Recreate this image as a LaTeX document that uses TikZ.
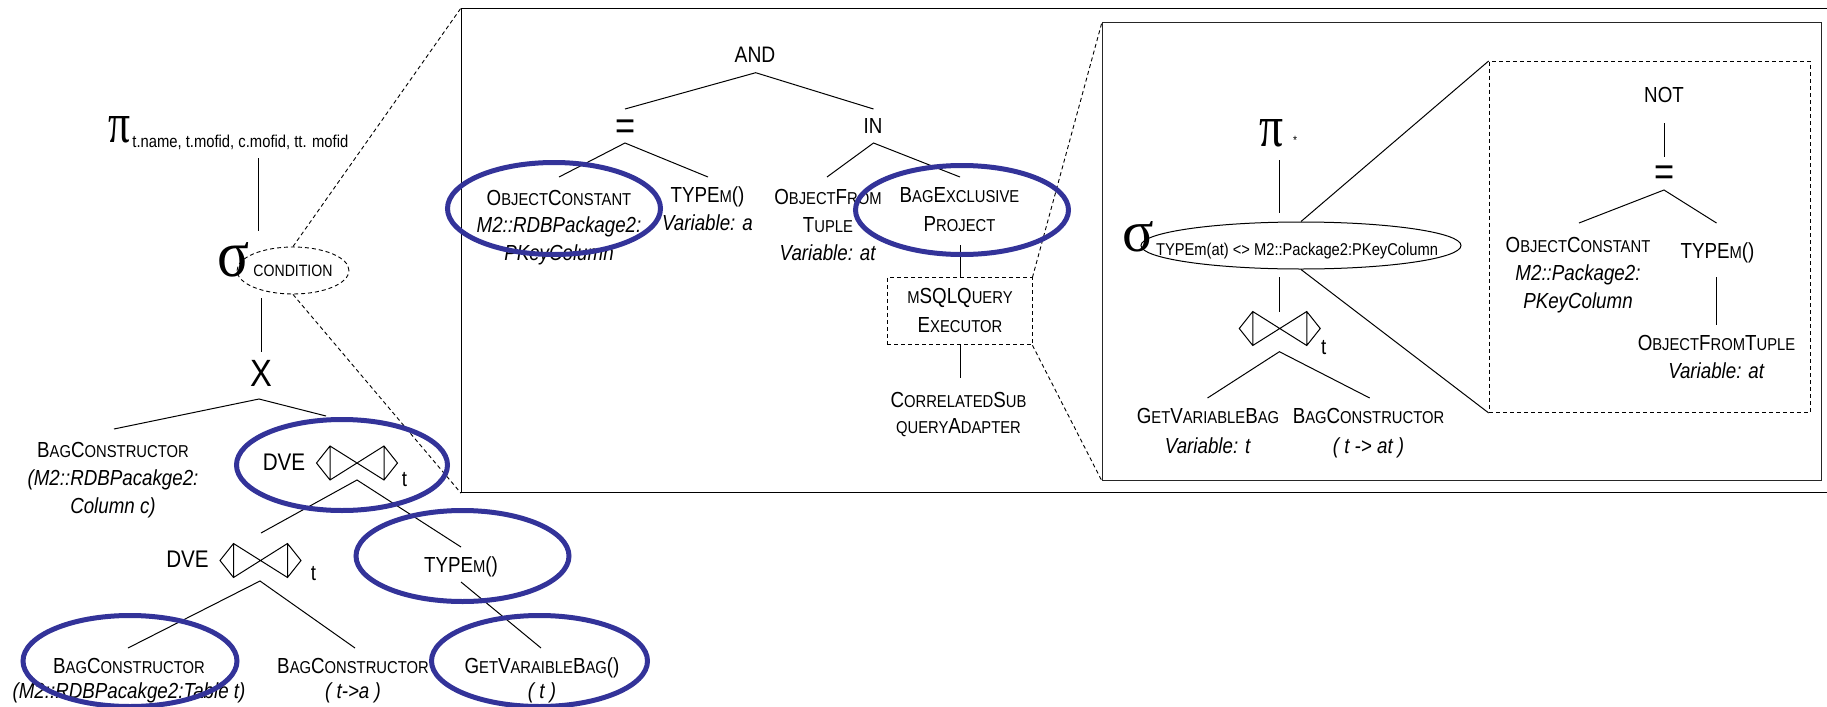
\documentclass[tikz,border=0pt]{standalone}
\usepackage{graphicx}
\usepackage{fontspec}
\setmainfont[FakeStretch=0.86]{Liberation Sans}
\newfontfamily\grk{Liberation Serif}
\usetikzlibrary{shapes.geometric}
\definecolor{ovalblue}{RGB}{51,51,153}
\newcommand\sm[1]{{\fontsize{8.6pt}{10pt}\selectfont #1}}
\newcommand\ls[1]{\fontsize{10.9pt}{#1pt}\selectfont}
\tikzset{
  lbl/.style={anchor=base, inner sep=0pt, align=center, font=\ls{14}},
  oval/.style={draw=ovalblue, line width=2.5pt, ellipse, inner sep=0pt},
  edge/.style={line width=0.5pt},
  dashline/.style={dash pattern=on 2pt off 1.5pt, line width=0.45pt},
  frame/.style={draw, line width=0.6pt, inner sep=0pt, anchor=north west},
  glyph/.style={inner sep=0pt},
  bowtie/.pic={
    \draw[edge, line join=miter] (-40.5,0) -- (-27,-17) -- (27,17) -- (40.5,0) -- (27,-17) -- (-27,17) -- cycle
      (-27,-17) -- (-27,17) (27,-17) -- (27,17);
    \coordinate (-b) at (0,17);
  }
}
\begin{document}
\begin{tikzpicture}[x=0.5pt, y=-0.5pt]
\useasboundingbox (0,0) rectangle (1827,707);

% ---------- frames ----------
\node[frame, minimum width=689.5pt, minimum height=242pt] (box1) at (461,8) {};
\node[frame, draw=black!85, minimum width=359.5pt, minimum height=229pt] (box2) at (1102,22) {};
\node[frame, dashline, minimum width=160.7pt, minimum height=175.5pt] (notbox) at (1488.6,61) {};

% ---------- left tree ----------
\node[glyph] (pi1) at (119,130) {\resizebox{11pt}{13pt}{\grk π}};
\node[anchor=base west, inner sep=0pt, font=\fontsize{8.6pt}{10pt}\selectfont] (pi1sub) at (132,147) {t.name, t.mofid, c.mofid, tt. mofid};
\node[glyph] (sig1) at (233,260) {\resizebox{16pt}{17pt}{\grk σ}};
\node[ellipse, draw, dashline, minimum width=50pt, minimum height=23.5pt, inner sep=0pt, font=\fontsize{8.2pt}{9pt}\selectfont] (cond) at (293,270.5) {CONDITION};
\node[glyph, font=\fontsize{19pt}{19pt}\selectfont] (cross) at (261,373.5) {X};

\coordinate (pi1b) at (258,158);
\coordinate (sig1t) at (258,231);
\coordinate (sig1b) at (261,298);
\coordinate (crosst) at (261,352);
\coordinate (crossb) at (259,399);
\coordinate (bc1t) at (114,429);
\coordinate (dve1t) at (326,416);
\draw[edge] (pi1b) -- (sig1t);
\draw[edge] (sig1b) -- (crosst);
\draw[edge] (bc1t) -- (crossb) -- (dve1t);

\node[lbl] (bc1) at (113,513) {B\sm{AG}C\sm{ONSTRUCTOR}\\\textit{(M2::RDBPacakge2:}\\\textit{Column c)}};
\node[lbl, font=\fontsize{12pt}{14pt}\selectfont] (dve1) at (284,470) {DVE};
\pic (bt1) at (357,463) {bowtie};
\node[lbl] (t1) at (404.5,486) {t};

\coordinate (dve2t) at (261,533);
\coordinate (ty1t) at (461,547);
\draw[edge] (dve2t) -- (bt1-b) -- (ty1t);

\node[lbl, font=\fontsize{12pt}{14pt}\selectfont] (dve2) at (187.5,567) {DVE};
\pic (bt2) at (260.5,560.5) {bowtie};
\node[lbl] (t2) at (313.5,580) {t};
\node[lbl] (ty1) at (461,572) {TYPE\sm{M}()};

\coordinate (bt2a) at (260,581);
\coordinate (bc2t) at (128,648);
\coordinate (bc3t) at (355,648);
\coordinate (ty1b) at (461,582);
\coordinate (gvb1t) at (541,648);
\draw[edge] (bc2t) -- (bt2a) -- (bc3t);
\draw[edge] (ty1b) -- (gvb1t);

\node[lbl, font=\ls{12.5}] (bc2) at (129,698) {B\sm{AG}C\sm{ONSTRUCTOR}\\\textit{(M2::RDBPacakge2:Table t)}};
\node[lbl, font=\ls{12.5}] (bc3) at (353,698) {B\sm{AG}C\sm{ONSTRUCTOR}\\\textit{( t->a )}};
\node[lbl, font=\ls{12.5}] (gvb1) at (542,698) {G\sm{ET}V\sm{ARAIBLE}B\sm{AG}()\\\textit{( t )}};

% zoom lines from condition
\draw[dashline] (cond.north) -- (box1.north west);
\draw[dashline] (cond.south) -- (box1.south west);

% ---------- middle tree ----------
\node[lbl, font=\fontsize{11.2pt}{14pt}\selectfont] (and) at (755,62) {AND};
\node[anchor=base, inner sep=0pt, font=\fontsize{20pt}{20pt}\selectfont] (eq1) at (626,139) {=};
\node[lbl] (in) at (873,133) {IN};
\coordinate (andb) at (755.7,72.7);
\coordinate (eq1t) at (625,109);
\coordinate (int) at (873.5,109);
\draw[edge] (eq1t) -- (andb) -- (int);
\coordinate (eq1b) at (625,143);
\coordinate (oc1t) at (559,177);
\coordinate (ty2t) at (708,177);
\draw[edge] (oc1t) -- (eq1b) -- (ty2t);
\coordinate (inb) at (873.5,143);
\coordinate (oft1t) at (827,177);
\coordinate (bept) at (960,177);
\draw[edge] (oft1t) -- (inb) -- (bept);

\node[lbl, font=\ls{13.75}] (oc1) at (559,260) {O\sm{BJECT}C\sm{ONSTANT}\\\textit{M2::RDBPackage2:}\\\textit{PKeyColumn}};
\node[lbl] (ty2) at (707.5,230) {TYPE\sm{M}()\\\textit{Variable: a}};
\node[lbl] (oft1) at (828,260) {O\sm{BJECT}F\sm{ROM}\\T\sm{UPLE}\\\textit{Variable: at}};
\node[lbl, font=\ls{14.5}] (bep) at (959.5,231) {B\sm{AG}E\sm{XCLUSIVE}\\P\sm{ROJECT}};

\node[draw, dashline, inner sep=0pt, minimum width=72.5pt, minimum height=33.5pt] (msql) at (959.5,311.35) {};
\node[lbl, font=\ls{14.5}] (msqlt) at (960,332) {\sm{M}SQLQ\sm{UERY}\\E\sm{XECUTOR}};
\node[lbl, font=\ls{13}] (corr) at (958.5,433) {C\sm{ORRELATED}S\sm{UB}\\\sm{QUERY}A\sm{DAPTER}};
\coordinate (bepb) at (960,245);
\draw[edge] (bepb) -- (msql.north -| bepb);
\coordinate (corrt) at (960,378);
\draw[edge] (msql.south -| corrt) -- (corrt);

\draw[dashline] (msql.north east) -- (box2.north west);
\draw[dashline] (msql.south east) -- (box2.south west);

% ---------- right tree ----------
\node[glyph] (pi2) at (1271,133.5) {\resizebox{12pt}{13.5pt}{\grk π}};
\node[glyph, font=\fontsize{6pt}{7pt}\selectfont] (star) at (1295,140) {*};
\node[glyph] (sig2) at (1138,237) {\resizebox{15.75pt}{15pt}{\grk σ}};
\node[ellipse, draw, edge, inner sep=0pt, minimum width=160pt, minimum height=23.5pt] (sel) at (1301,245.5) {};
\node[anchor=base, inner sep=0pt, font=\fontsize{8.55pt}{10pt}\selectfont] (selt) at (1297,255) {TYPEm(at) <> M2::Package2:PKeyColumn};
\coordinate (pi2b) at (1279.4,160);
\coordinate (selt2) at (1279.4,213);
\draw[edge] (pi2b) -- (selt2);
\coordinate (selb) at (1279.4,277);
\coordinate (bt3t) at (1279.4,312);
\draw[edge] (selb) -- (bt3t);
\pic (bt3) at (1279.75,328.5) {bowtie};
\node[lbl] (t3) at (1323.6,354) {t};
\coordinate (bt3a) at (1279.4,351.7);
\coordinate (gvb2t) at (1207.5,398);
\coordinate (bc4t) at (1369.7,398);
\draw[edge] (gvb2t) -- (bt3a) -- (bc4t);
\node[lbl, font=\ls{15}] (gvb2) at (1208,453) {G\sm{ET}V\sm{ARIABLE}B\sm{AG}\\\textit{Variable: t}};
\node[lbl, font=\ls{15}] (bc4) at (1368.5,453) {B\sm{AG}C\sm{ONSTRUCTOR}\\\textit{( t -> at )}};

\draw[edge] (sel.north) -- (notbox.north west);
\draw[edge] (sel.south) -- (notbox.south west);

\node[lbl] (not) at (1664,102) {NOT};
\node[anchor=base, inner sep=0pt, font=\fontsize{20pt}{20pt}\selectfont] (eq2) at (1664.5,185.5) {=};
\coordinate (notb) at (1664,123);
\coordinate (eq2t) at (1664,157);
\draw[edge] (notb) -- (eq2t);
\coordinate (eq2b) at (1664,190);
\coordinate (oc2t) at (1579,223);
\coordinate (ty3t) at (1716.5,223);
\draw[edge] (oc2t) -- (eq2b) -- (ty3t);
\node[lbl] (oc2) at (1578,308) {O\sm{BJECT}C\sm{ONSTANT}\\\textit{M2::Package2:}\\\textit{PKeyColumn}};
\node[lbl] (ty3) at (1717.5,258) {TYPE\sm{M}()};
\coordinate (ty3b) at (1716.5,277);
\coordinate (oft2t) at (1716.5,325);
\draw[edge] (ty3b) -- (oft2t);
\node[lbl] (oft2) at (1716.5,378) {O\sm{BJECT}F\sm{ROM}T\sm{UPLE}\\\textit{Variable: at}};

% ---------- blue highlight ovals ----------
\node[oval, minimum width=105.5pt, minimum height=45.5pt] (ov1) at (342,465) {};
\node[oval, minimum width=106.5pt, minimum height=45.5pt] (ov2) at (462.5,556) {};
\node[oval, minimum width=108pt, minimum height=45.5pt] (ov3) at (539.5,661) {};
\node[oval, minimum width=107pt, minimum height=45.5pt] (ov4) at (130,661) {};
\node[oval, minimum width=106.5pt, minimum height=46pt] (ov5) at (554,208.5) {};
\node[oval, minimum width=106.5pt, minimum height=44.5pt] (ov6) at (962,210) {};
\end{tikzpicture}
\end{document}
